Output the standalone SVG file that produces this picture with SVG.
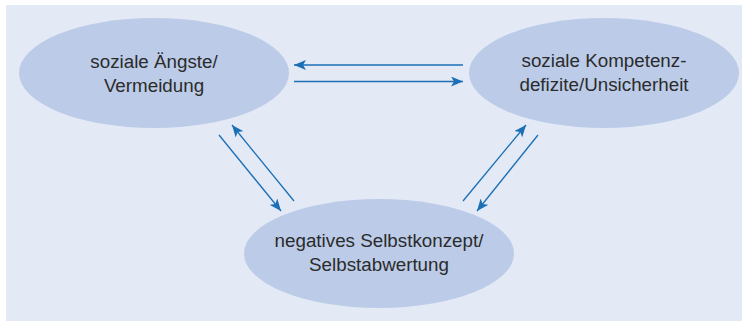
<svg xmlns="http://www.w3.org/2000/svg" width="742" height="322" viewBox="0 0 742 322">
<style>
.node ellipse{fill:#bccbe8;}
.node text{font-family:"Liberation Sans",Arial,sans-serif;font-size:18.8px;fill:#2b2b2b;text-anchor:middle;}
.conn line{stroke:#1a6fb5;stroke-width:1.3;fill:none;marker-end:url(#ah);}
</style>
<defs>
<marker id="ah" viewBox="0 0 12 10" refX="12" refY="5" markerWidth="12" markerHeight="10" markerUnits="userSpaceOnUse" orient="auto">
<path d="M0,0 L12,5 L0,10 L3,5 Z" fill="#1a6fb5"/>
</marker>
</defs>
<rect x="0" y="0" width="742" height="322" fill="#ffffff"/>
<rect x="6" y="5" width="736" height="316" fill="#e3e9f5"/>
<g id="node-aengste" class="node">
<ellipse cx="154" cy="73" rx="135" ry="55"/>
<text x="154" y="68">soziale Ängste/</text>
<text x="154" y="92">Vermeidung</text>
</g>
<g id="node-kompetenz" class="node">
<ellipse cx="604" cy="73" rx="135" ry="55"/>
<text x="604" y="67">soziale Kompetenz-</text>
<text x="604" y="91">defizite/Unsicherheit</text>
</g>
<g id="node-selbst" class="node">
<ellipse cx="379" cy="253.5" rx="135" ry="54.5"/>
<text x="379" y="247">negatives Selbstkonzept/</text>
<text x="379" y="271">Selbstabwertung</text>
</g>
<g id="connectors" class="conn">
<line x1="463" y1="65" x2="294" y2="65"/>
<line x1="294" y1="81.5" x2="463" y2="81.5"/>
<line x1="219" y1="135" x2="281" y2="211"/>
<line x1="294" y1="201" x2="232" y2="125"/>
<line x1="463" y1="201" x2="526" y2="125"/>
<line x1="538" y1="135" x2="477" y2="211"/>
</g>
</svg>
